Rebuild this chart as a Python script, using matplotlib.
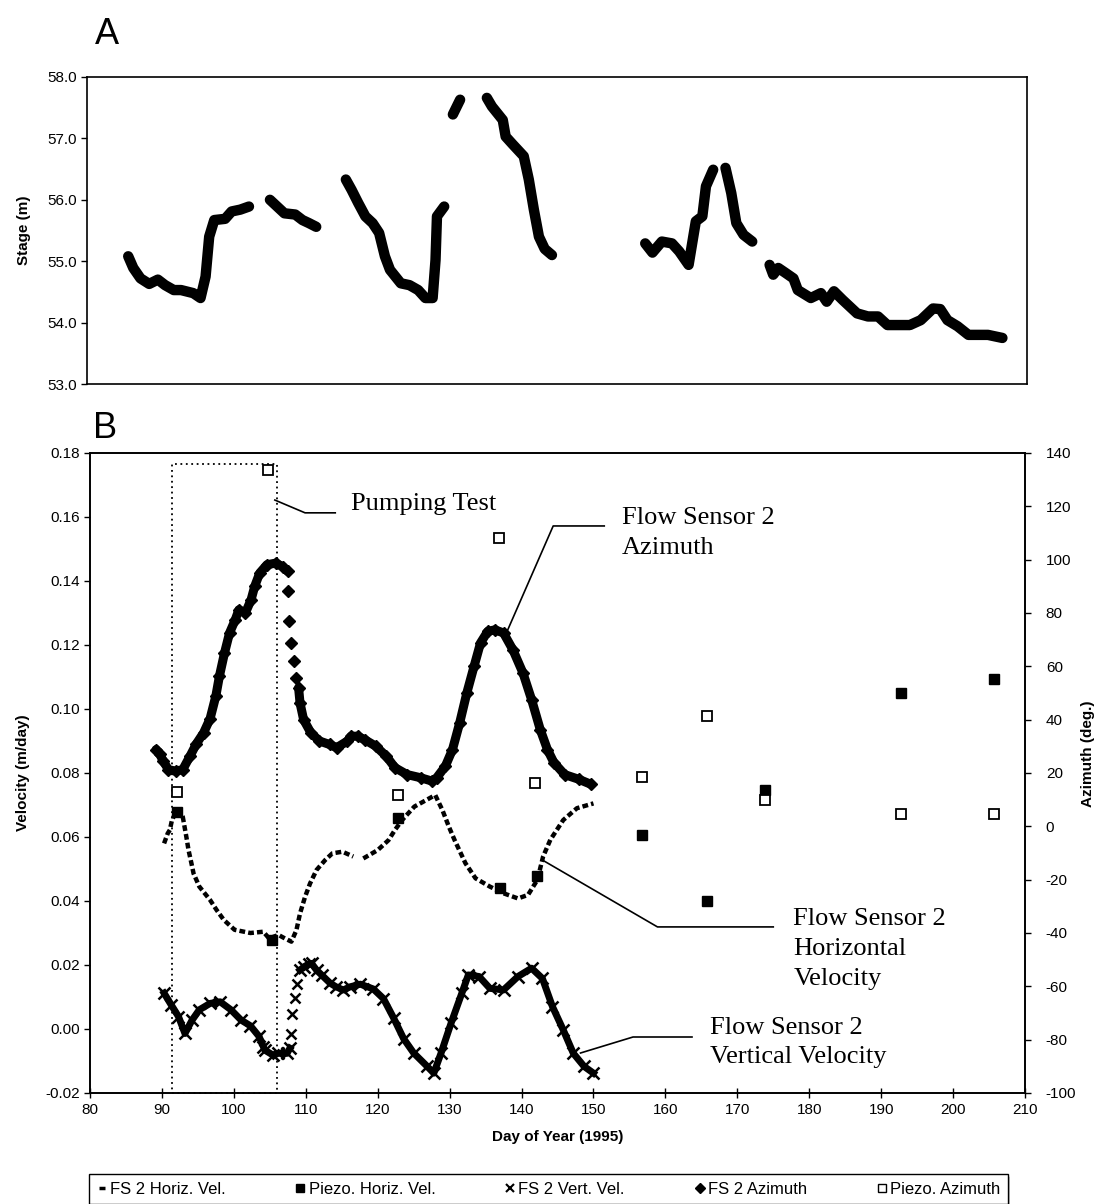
import numpy as np
import matplotlib
matplotlib.use("Agg")
import matplotlib.pyplot as plt
from matplotlib.lines import Line2D
from matplotlib.patches import Rectangle
from matplotlib.ticker import FormatStrFormatter

plt.rcParams['font.family'] = ['Liberation Sans', 'DejaVu Sans']
plt.rcParams['axes.unicode_minus'] = False
nan = np.nan

# ---------------- Panel A: stage ----------------
stage_day = [85.7, 86.4, 87.4, 88.6, 89.8, 90.8, 92.0, 93.0, 94.7, 95.7, 96.4, 96.9, 97.6, 99.1, 100.0, 101.2, 102.4, nan,
             105.3, 106.3, 107.3, 108.8, 109.8, 110.7, 111.7, nan,
             115.8, 116.6, 117.5, 118.5, 119.5, 120.4, 121.2, 121.9, 123.4, 124.6, 125.8, 126.8, 127.8, 128.2, 128.4, 129.4, nan,
             130.6, 131.6, nan,
             135.3, 136.0, 137.5, 137.9, 138.9, 140.4, 141.1, 141.8, 142.5, 143.3, 144.3, nan,
             157.2, 158.2, 159.5, 160.9, 161.9, 163.2, 164.2, 165.1, 165.6, 166.6, nan,
             168.3, 169.1, 169.8, 170.8, 172.0, nan,
             174.4, 174.9, 175.6, 176.6, 177.7, 178.3, 180.1, 181.5, 182.3, 183.3, 184.5, 186.5, 188.0, 189.4, 190.7,
             193.8, 195.3, 197.0, 198.0, 199.0, 200.4, 201.9, 204.6, 206.6]
stage_m = [55.08, 54.89, 54.72, 54.63, 54.70, 54.61, 54.53, 54.53, 54.48, 54.40, 54.75, 55.40, 55.67, 55.69, 55.81, 55.84, 55.89, nan,
           56.00, 55.89, 55.78, 55.76, 55.67, 55.62, 55.56, nan,
           56.33, 56.16, 55.95, 55.73, 55.62, 55.46, 55.08, 54.86, 54.64, 54.61, 54.53, 54.40, 54.40, 55.02, 55.73, 55.89, nan,
           57.39, 57.63, nan,
           57.66, 57.52, 57.30, 57.03, 56.90, 56.71, 56.33, 55.84, 55.40, 55.20, 55.10, nan,
           55.29, 55.14, 55.32, 55.29, 55.16, 54.94, 55.65, 55.73, 56.22, 56.49, nan,
           56.52, 56.11, 55.62, 55.43, 55.32, nan,
           54.94, 54.78, 54.89, 54.81, 54.72, 54.53, 54.40, 54.48, 54.34, 54.51, 54.37, 54.15, 54.10, 54.10, 53.96,
           53.96, 54.04, 54.23, 54.22, 54.04, 53.94, 53.80, 53.80, 53.75]

# ---------------- Panel B ----------------
# FS 2 azimuth (deg), dense chains (nan = break) and sparse fall
fs2_az_day = [89.2, 89.7, 90.2, 90.9, 91.9, 92.9, 93.9, 94.8, 95.8, 96.7, 97.5, 98.0, 98.7, 99.4, 100.2, 100.7, 101.6,
              102.4, 102.9, 103.6, 104.6, 105.8, 106.8, 107.5, nan,
              109.0, 109.2, 109.7, 110.7, 111.9, 113.3, 114.3, 115.8, 116.3, 117.2, 118.2, 119.7, 121.2, 122.4, 124.1,
              126.0, 127.5, 128.2, 129.4, 130.4, 131.4, 132.4, 133.4, 134.3, 135.3, 136.3, 137.5, 138.8, 140.2, 141.4,
              142.6, 143.6, 144.5, 146.0, 148.0, 149.7]
fs2_az_deg = [28.8, 27.0, 24.4, 21.3, 20.7, 21.3, 26.3, 31.0, 35.1, 40.4, 48.9, 56.4, 65.0, 72.5, 77.5, 81.2, 80.0,
              85.0, 90.0, 95.0, 98.1, 98.7, 97.4, 95.6, nan,
              52.0, 46.3, 40.0, 35.1, 32.0, 30.7, 29.5, 32.0, 33.8, 33.8, 32.5, 30.1, 26.3, 22.0, 19.4,
              18.2, 17.0, 18.2, 22.5, 28.8, 38.8, 50.1, 60.0, 68.8, 73.1, 73.7, 72.5, 66.2, 57.5, 47.5,
              36.3, 28.8, 23.9, 19.4, 17.6, 15.7]
fs2_az_sparse_day = [107.5, 107.7, 108.0, 108.4, 108.7]
fs2_az_sparse_deg = [88.1, 76.9, 68.8, 61.9, 55.7]

# FS 2 horizontal velocity (m/day)
fs2_hv_day = [90.3, 90.8, 91.1, 91.4, 92.1, 92.9, 93.4, 93.7, 94.1, 94.4, 95.2, 96.7, 97.6, 98.6, 100.1, 102.3, 104.1,
              104.9, 106.2, 107.1, 108.0, 108.7, 109.2, 109.9, 110.6, 111.5, 112.7, 113.7, 115.1, 116.6, nan,
              118.0, 120.0, 121.5, 122.4, 123.4, 125.1, 128.0, 129.0, 129.9, 130.7, 132.2, 133.6, 135.6, 137.5,
              139.5, 140.9, 142.2, 143.0, 144.0, 145.8, 147.7, 150.0]
fs2_hv = [0.0580, 0.0611, 0.0622, 0.0653, 0.0684, 0.0663, 0.0600, 0.0559, 0.0518, 0.0486, 0.0445, 0.0403, 0.0372,
          0.0341, 0.0310, 0.0300, 0.0304, 0.0283, 0.0294, 0.0283, 0.0273, 0.0309, 0.0361, 0.0413, 0.0455, 0.0497,
          0.0528, 0.0549, 0.0554, 0.0539, nan,
          0.0533, 0.0559, 0.0590, 0.0622, 0.0653, 0.0695, 0.0731, 0.0684, 0.0632, 0.0590, 0.0518, 0.0471, 0.0445,
          0.0424, 0.0408, 0.0419, 0.0466, 0.0539, 0.0591, 0.0653, 0.0690, 0.0705]

# FS 2 vertical velocity (m/day)
fs2_vv_day = [90.3, 91.3, 92.3, 93.2, 94.2, 95.2, 96.7, 98.1, 99.6, 101.0, 102.3, 103.5, 104.1, 104.3, 105.4, 106.2,
              107.4, 107.8, nan,
              109.2, 109.8, 110.4, 110.8, 111.5, 112.2, 113.4, 114.2, 115.2, 116.2, 117.6, 119.4, 120.8, 122.2, 123.6,
              125.0, 126.8, 127.8, 128.8, 130.2, 131.7, 132.6, 134.1, 135.6, 137.5, 139.5, 141.4, 142.9, 144.3, 145.8,
              147.2, 148.7, 150.0]
fs2_vv = [0.0112, 0.0075, 0.0039, -0.0014, 0.0028, 0.0060, 0.0080, 0.0085, 0.0060, 0.0028, 0.0010, -0.0023, -0.0055,
          -0.0066, -0.0081, -0.0076, -0.0076, -0.0060, nan,
          0.0184, 0.0195, 0.0203, 0.0205, 0.0184, 0.0169, 0.0143, 0.0132, 0.0122, 0.0132, 0.0140, 0.0125, 0.0095,
          0.0035, -0.0030, -0.0075, -0.0115, -0.0138, -0.0076, 0.0018, 0.0112, 0.0169, 0.0164, 0.0127, 0.0122,
          0.0164, 0.0190, 0.0158, 0.0070, -0.0003, -0.0076, -0.0117, -0.0138]
fs2_vv_sparse_day = [108.0, 108.1, 108.5, 108.8]
fs2_vv_sparse = [-0.0015, 0.0047, 0.0096, 0.0140]

# Piezometer data
piezo_hv_day = [92.1, 105.3, 122.8, 137.0, 142.1, 156.8, 165.8, 173.9, 192.8, 205.7]
piezo_hv = [0.0679, 0.0278, 0.0660, 0.0441, 0.0478, 0.0605, 0.0401, 0.0746, 0.1049, 0.1094]
piezo_az_day = [92.1, 104.7, 122.8, 136.8, 141.9, 156.8, 165.8, 173.8, 192.8, 205.7]
piezo_az = [12.7, 133.5, 11.6, 108.3, 16.4, 18.6, 41.5, 10.0, 4.7, 4.7]

# Pumping test period
pump_start, pump_end, pump_top = 91.4, 106.0, 0.1765

# ---------------- Figure ----------------
W, H = 1096, 1204
fig = plt.figure(figsize=(W / 100, H / 100), dpi=100)
fig.patch.set_facecolor('white')

lab_font = dict(fontsize=11, fontweight='bold')
serif = dict(family=['Liberation Serif', 'DejaVu Serif'], fontsize=19)

# Panel A
axA = fig.add_axes([87 / W, 1 - 384 / H, 940 / W, 307 / H])
axA.plot(stage_day, stage_m, color='black', lw=7.5, solid_capstyle='round', solid_joinstyle='round')
axA.set_xlim(80, 210)
axA.set_ylim(53, 58)
axA.set_yticks(np.arange(53, 58.01, 1.0))
axA.yaxis.set_major_formatter(FormatStrFormatter('%.1f'))
axA.set_xticks([])
axA.tick_params(axis='y', direction='out', length=4, width=1, labelsize=11, pad=3)
axA.set_ylabel('Stage (m)', **lab_font)
axA.yaxis.set_label_coords(-0.060, 0.5)
for s in axA.spines.values():
    s.set_linewidth(1.2)

# Panel B
axB = fig.add_axes([90 / W, 1 - 1093 / H, 935 / W, 640 / H])
axB.set_xlim(80, 210)
axB.set_ylim(-0.02, 0.18)
axB.set_xticks(np.arange(80, 211, 10))
axB.set_yticks(np.arange(-0.02, 0.1801, 0.02))
axB.yaxis.set_major_formatter(FormatStrFormatter('%.2f'))
axB.tick_params(axis='x', direction='inout', length=7, width=1, labelsize=11, pad=4)
axB.tick_params(axis='y', direction='out', length=4, width=1, labelsize=11, pad=3)
axB.set_xlabel('Day of Year (1995)', **lab_font)
axB.xaxis.set_label_coords(0.5, -0.058)
axB.set_ylabel('Velocity (m/day)', **lab_font)
axB.yaxis.set_label_coords(-0.064, 0.5)
for s in axB.spines.values():
    s.set_linewidth(1.2)

ax2 = axB.twinx()
ax2.set_ylim(-100, 140)
ax2.set_yticks(np.arange(-100, 141, 20))
ax2.tick_params(axis='y', direction='out', length=4, width=1, labelsize=11, pad=11)
ax2.set_ylabel('Azimuth (deg.)', **lab_font)
ax2.yaxis.set_label_coords(1.060, 0.53)
for s in ax2.spines.values():
    s.set_linewidth(1.2)

# pumping test box
axB.add_patch(Rectangle((pump_start, -0.02), pump_end - pump_start, pump_top + 0.02,
                        fill=False, ls=(0, (1, 2)), lw=1.3, ec='black', clip_on=False, zorder=1))

# FS2 horizontal velocity
axB.plot(fs2_hv_day, fs2_hv, color='black', lw=3.2, ls=(0, (1.3, 0.7)), zorder=3)
# FS2 vertical velocity
axB.plot(fs2_vv_day, fs2_vv, color='black', lw=5, marker='x', ms=8, mew=1.8, zorder=3)
axB.plot(fs2_vv_sparse_day, fs2_vv_sparse, color='black', ls='none', marker='x', ms=7, mew=1.8, zorder=3)
# Piezo horizontal velocity
axB.plot(piezo_hv_day, piezo_hv, color='black', ls='none', marker='s', ms=7, zorder=4)

# FS2 azimuth
ax2.plot(fs2_az_day, fs2_az_deg, color='black', lw=6.5, marker='D', ms=6, zorder=3,
         solid_capstyle='round', solid_joinstyle='round')
ax2.plot(fs2_az_sparse_day, fs2_az_sparse_deg, color='black', ls='none', marker='D', ms=6.5, zorder=3)
# Piezo azimuth
ax2.plot(piezo_az_day, piezo_az, ls='none', marker='s', ms=7, mfc='white', mec='black', mew=1.3, zorder=4)

# annotations (left-axis data coordinates)
axB.plot([105.7, 109.9, 114.1], [0.1653, 0.1613, 0.1613], color='black', lw=1.2, clip_on=False)
axB.text(116.3, 0.1641, 'Pumping Test', ha='left', va='center', **serif)

axB.plot([137.9, 144.4, 151.5], [0.1238, 0.1572, 0.1572], color='black', lw=1.2)
axB.text(154.0, 0.1550, 'Flow Sensor 2\nAzimuth', ha='left', va='center', linespacing=1.45, **serif)

axB.plot([142.9, 158.9, 175.0], [0.0528, 0.0319, 0.0319], color='black', lw=1.2)
axB.text(177.8, 0.0250, 'Flow Sensor 2\nHorizontal\nVelocity', ha='left', va='center', linespacing=1.45, **serif)

axB.plot([148.2, 155.5, 163.7], [-0.0075, -0.0025, -0.0025], color='black', lw=1.2)
axB.text(166.2, -0.0042, 'Flow Sensor 2\nVertical Velocity', ha='left', va='center', linespacing=1.45, **serif)

# panel letters
fig.text(95 / W, 1 - 35 / H, 'A', fontsize=26, ha='left', va='center')
fig.text(93 / W, 1 - 428 / H, 'B', fontsize=26, ha='left', va='center')

# legend
handles = [
    Line2D([], [], ls='none', marker='_', ms=5, mew=2.5, color='black'),
    Line2D([], [], ls='none', marker='s', ms=6, color='black'),
    Line2D([], [], ls='none', marker='x', ms=6, mew=1.5, color='black'),
    Line2D([], [], ls='none', marker='D', ms=5, color='black'),
    Line2D([], [], ls='none', marker='s', ms=6, mfc='white', mec='black', mew=1.0),
]
labels = ['FS 2 Horiz. Vel.', 'Piezo. Horiz. Vel.', 'FS 2 Vert. Vel.', 'FS 2 Azimuth', 'Piezo. Azimuth']
leg = fig.legend(handles, labels, loc='upper left', ncol=5, mode='expand',
                 bbox_to_anchor=(89 / W, 0.0, 919 / W, (H - 1174) / H),
                 frameon=True, fancybox=False, edgecolor='black', framealpha=1,
                 fontsize=12, handlelength=0.6, handletextpad=0.2, borderpad=0.45, borderaxespad=0)
leg.get_frame().set_linewidth(1.0)
fig.add_artist(Line2D([1007 / W, 1007 / W], [0, 1 - 1178 / H], transform=fig.transFigure, color='black', lw=2.5))

fig.savefig('out.png', dpi=100)
